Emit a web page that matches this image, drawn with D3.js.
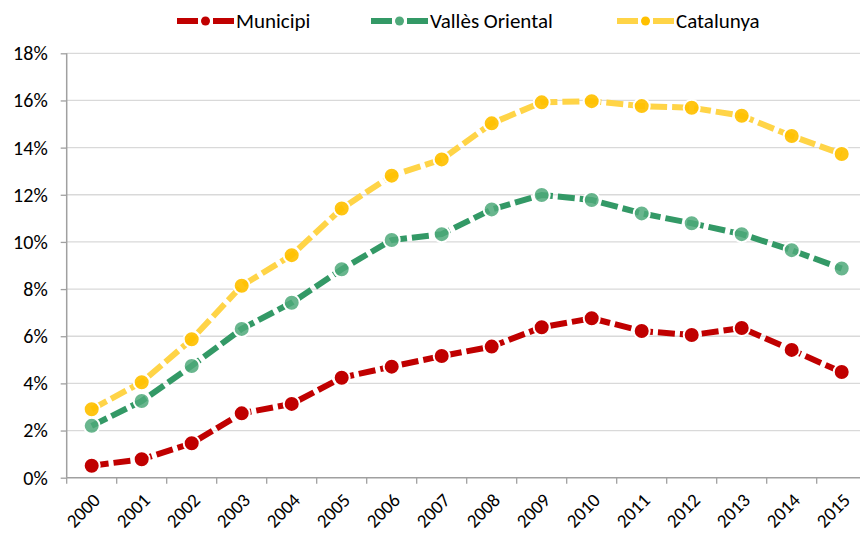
<!DOCTYPE html>
<html>
<head>
<meta charset="utf-8">
<script src="https://cdn.jsdelivr.net/npm/d3@7"></script>
<style>
  body { margin: 0; background: #fff; }
  text { font-family: Calibri, Carlito, "Liberation Sans", sans-serif; fill: #000; }
</style>
</head>
<body>
<svg id="chart" width="860" height="535"></svg>
<script>
// data (share, %)
var years = [2000, 2001, 2002, 2003, 2004, 2005, 2006, 2007, 2008, 2009, 2010, 2011, 2012, 2013, 2014, 2015];
var municipi = [0.51, 0.78, 1.46, 2.73, 3.13, 4.24, 4.71, 5.16, 5.56, 6.38, 6.76, 6.22, 6.05, 6.35, 5.42, 4.48];
var vallesOriental = [2.20, 3.25, 4.74, 6.31, 7.42, 8.84, 10.08, 10.33, 11.38, 11.99, 11.78, 11.21, 10.79, 10.33, 9.65, 8.87];
var catalunya = [2.90, 4.05, 5.87, 8.14, 9.44, 11.42, 12.81, 13.50, 15.03, 15.92, 15.97, 15.76, 15.69, 15.35, 14.49, 13.73];
var yTicks = [0, 2, 4, 6, 8, 10, 12, 14, 16, 18];

var series = [
  { name: "Municipi", values: municipi, line: "#C00000", marker: "#C00000", mOpacity: 1 },
  { name: "Vallès Oriental", values: vallesOriental, line: "#339966", marker: "#4FA97A", mOpacity: 0.85 },
  { name: "Catalunya", values: catalunya, line: "#FFD447", marker: "#FFC000", mOpacity: 0.92 }
];

var svg = d3.select("#chart");
var plotLeft = 66.7, plotBottom = 477.7, plotTop = 53.3, plotRight = 860;

var x = d3.scaleBand().domain(years).range([plotLeft, plotLeft + 800]).padding(0);
var y = d3.scaleLinear().domain([0, 18]).range([plotBottom, plotTop]);

// gridlines
svg.append("g").selectAll("line").data(yTicks.slice(1)).enter().append("line")
  .attr("x1", plotLeft).attr("x2", plotRight)
  .attr("y1", function(d) { return y(d); }).attr("y2", function(d) { return y(d); })
  .attr("stroke", "#D9D9D9").attr("stroke-width", 1.3);

// y axis
var yAxis = d3.axisLeft(y).tickValues(yTicks).tickSize(6).tickPadding(13)
  .tickFormat(function(d) { return d + "%"; });
var gy = svg.append("g").attr("transform", "translate(" + plotLeft + ",0)").call(yAxis);
gy.select(".domain").remove();
gy.selectAll("line").attr("stroke", "#A0A0A0").attr("stroke-width", 1.3);
gy.selectAll("text").style("font-size", "20px").style("font-family", null).attr("fill", "#000");
svg.append("line").attr("x1", plotLeft).attr("x2", plotLeft).attr("y1", plotTop).attr("y2", plotBottom)
  .attr("stroke", "#A0A0A0").attr("stroke-width", 1.5);

// x axis
svg.append("line").attr("x1", plotLeft).attr("x2", plotRight).attr("y1", plotBottom).attr("y2", plotBottom)
  .attr("stroke", "#A0A0A0").attr("stroke-width", 1.5);
svg.append("g").selectAll("line").data(years).enter().append("line")
  .attr("x1", function(d) { return x(d); }).attr("x2", function(d) { return x(d); })
  .attr("y1", plotBottom).attr("y2", plotBottom + 6)
  .attr("stroke", "#A0A0A0").attr("stroke-width", 1.3);
svg.append("g").selectAll("text").data(years).enter().append("text")
  .attr("transform", function(d) {
    return "translate(" + (x(d) + x.bandwidth() / 2 + 5) + "," + (plotBottom + 19) + ") rotate(-45)";
  })
  .attr("text-anchor", "end")
  .attr("dy", "0.35em")
  .style("font-size", "19px")
  .text(function(d) { return d; });

// lines + markers
var line = d3.line()
  .x(function(d, i) { return x(years[i]) + x.bandwidth() / 2; })
  .y(function(d) { return y(d); });

series.forEach(function(s) {
  var g = svg.append("g");
  g.append("path").datum(s.values)
    .attr("d", line)
    .attr("fill", "none")
    .attr("stroke", s.line)
    .attr("stroke-width", 6)
    .attr("stroke-dasharray", "17,5");
  g.selectAll("circle").data(s.values).enter().append("circle")
    .attr("cx", function(d, i) { return x(years[i]) + x.bandwidth() / 2; })
    .attr("cy", function(d) { return y(d); })
    .attr("r", 8)
    .attr("fill", s.marker)
    .attr("fill-opacity", s.mOpacity)
    .attr("stroke", "#fff")
    .attr("stroke-width", 2);
});

// legend
var legendX = [177, 371, 617];
var lg = svg.append("g").selectAll("g").data(series).enter().append("g")
  .attr("transform", function(d, i) { return "translate(" + legendX[i] + ",21)"; });
lg.append("line").attr("x1", 0).attr("x2", 57).attr("y1", 0).attr("y2", 0)
  .attr("stroke", function(d) { return d.line; })
  .attr("stroke-width", 6)
  .attr("stroke-dasharray", "21,15");
lg.append("circle").attr("cx", 28.5).attr("cy", 0).attr("r", 4.5)
  .attr("fill", function(d) { return d.marker; });
lg.append("text").attr("x", 59).attr("y", 7)
  .style("font-size", "21px")
  .text(function(d) { return d.name; });
</script>
</body>
</html>
